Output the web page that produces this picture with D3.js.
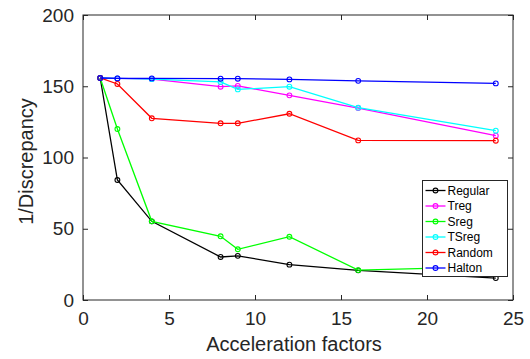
<!DOCTYPE html>
<html><head><meta charset="utf-8">
<script src="https://cdn.jsdelivr.net/npm/d3@7"></script>
<style>body{margin:0;background:#fff}svg{display:block}text{font-family:"Liberation Sans",Arial,sans-serif}</style>
</head><body>
<svg id="c" width="530" height="359"></svg>
<script>
const xValues = [1, 2, 4, 8, 9, 12, 16, 24];
const seriesNames = ["Regular", "Treg", "Sreg", "TSreg", "Random", "Halton"];
const seriesColors = ["#000000", "#ff00ff", "#00ff00", "#00ffff", "#ff0000", "#0000ff"];
const regular = [155.8, 84.2, 55.2, 30.2, 31.0, 24.8, 20.8, 15.4];
const treg    = [155.8, 155.5, 155.0, 149.7, 150.2, 143.6, 134.7, 115.3];
const sreg    = [155.8, 120.0, 55.2, 44.7, 35.6, 44.4, 21.0, 23.4];
const tsreg   = [155.8, 155.5, 155.0, 153.0, 147.8, 149.7, 135.0, 118.8];
const random  = [155.8, 151.6, 127.5, 124.0, 124.0, 130.7, 112.0, 111.8];
const halton  = [155.8, 155.5, 155.5, 155.3, 155.3, 154.8, 153.8, 152.0];
const seriesValues = [regular, treg, sreg, tsreg, random, halton];
const xTicks = [0, 5, 10, 15, 20, 25];
const yTicks = [0, 50, 100, 150, 200];
const xTitle = "Acceleration factors";
const yTitle = "1/Discrepancy";

const svg = d3.select("#c");
const L = 83, R = 513, T = 15, B = 300;
const x = d3.scaleLinear().domain([0, 25]).range([L, R]);
const y = d3.scaleLinear().domain([0, 200]).range([B, T]);
const axisColor = "#262626";
const tl = 5;

svg.append("rect").attr("x", L).attr("y", T).attr("width", R - L).attr("height", B - T)
  .attr("fill", "#fff").attr("stroke", axisColor).attr("stroke-width", 1);

function styleAxis(g) {
  g.select(".domain").remove();
  g.selectAll(".tick line").attr("stroke", axisColor).attr("stroke-width", 1);
  g.selectAll(".tick text").attr("fill", axisColor).style("font-size", "19px");
}
svg.append("g").attr("transform", `translate(0,${B})`)
  .call(d3.axisBottom(x).tickValues(xTicks).tickSizeInner(-tl).tickSizeOuter(0).tickPadding(12))
  .call(styleAxis);
svg.append("g").attr("transform", `translate(0,${T})`)
  .call(d3.axisTop(x).tickValues(xTicks).tickSizeInner(-tl).tickSizeOuter(0).tickFormat(""))
  .call(styleAxis);
svg.append("g").attr("transform", `translate(${L},0)`)
  .call(d3.axisLeft(y).tickValues(yTicks).tickSizeInner(-tl).tickSizeOuter(0).tickPadding(9))
  .call(styleAxis);
svg.append("g").attr("transform", `translate(${R},0)`)
  .call(d3.axisRight(y).tickValues(yTicks).tickSizeInner(-tl).tickSizeOuter(0).tickFormat(""))
  .call(styleAxis);

svg.append("text").attr("x", (L + R) / 2 - 4).attr("y", 351).attr("text-anchor", "middle")
  .attr("fill", axisColor).style("font-size", "20px").text(xTitle);
svg.append("text").attr("transform", `translate(33,${(T + B) / 2 + 4}) rotate(-90)`)
  .attr("text-anchor", "middle").attr("fill", axisColor).style("font-size", "20px").text(yTitle);

const line = d3.line().x((d, i) => x(xValues[i])).y(d => y(d));
seriesValues.forEach((vals, s) => {
  const g = svg.append("g");
  g.append("path").attr("d", line(vals)).attr("fill", "none")
    .attr("stroke", seriesColors[s]).attr("stroke-width", 1.3);
  g.selectAll("circle").data(vals).join("circle")
    .attr("cx", (d, i) => x(xValues[i])).attr("cy", d => y(d)).attr("r", 2.4)
    .attr("fill", "none").attr("stroke", seriesColors[s]).attr("stroke-width", 1.1);
});

const lg = svg.append("g");
const lx = 422.5, ly = 180.5, lw = 85, lh = 96, rowH = 15.5;
lg.append("rect").attr("x", lx).attr("y", ly).attr("width", lw).attr("height", lh)
  .attr("fill", "#fff").attr("stroke", axisColor).attr("stroke-width", 1);
seriesNames.forEach((name, s) => {
  const cy = ly + 10 + s * rowH;
  lg.append("line").attr("x1", lx + 3).attr("x2", lx + 23).attr("y1", cy).attr("y2", cy)
    .attr("stroke", seriesColors[s]).attr("stroke-width", 1.3);
  lg.append("circle").attr("cx", lx + 13).attr("cy", cy).attr("r", 2.4)
    .attr("fill", "none").attr("stroke", seriesColors[s]).attr("stroke-width", 1.1);
  lg.append("text").attr("x", lx + 25).attr("y", cy).attr("dy", "0.35em")
    .attr("fill", "#000").style("font-size", "12px").text(name);
});
</script>
</body></html>
